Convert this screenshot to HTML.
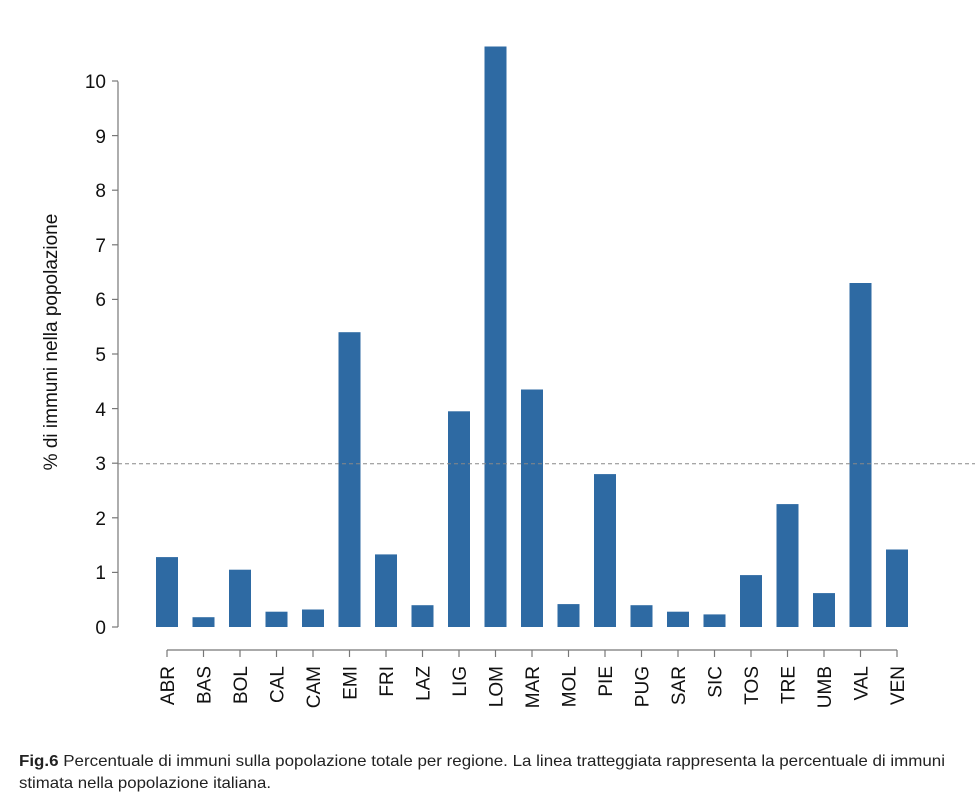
<!DOCTYPE html>
<html><head><meta charset="utf-8"><style>
html,body{margin:0;padding:0;background:#fff;}
svg{display:block;font-family:"Liberation Sans",Arial,sans-serif;}
</style></head><body>
<svg width="975" height="800" viewBox="0 0 975 800" xmlns="http://www.w3.org/2000/svg">
<g stroke="#777" stroke-width="1.2" fill="none">
<line x1="118" y1="81.5" x2="118" y2="627"/>
<line x1="112" y1="627" x2="118" y2="627"/>
<line x1="112" y1="572.4" x2="118" y2="572.4"/>
<line x1="112" y1="517.8" x2="118" y2="517.8"/>
<line x1="112" y1="463.2" x2="118" y2="463.2"/>
<line x1="112" y1="408.6" x2="118" y2="408.6"/>
<line x1="112" y1="354" x2="118" y2="354"/>
<line x1="112" y1="299.4" x2="118" y2="299.4"/>
<line x1="112" y1="244.8" x2="118" y2="244.8"/>
<line x1="112" y1="190.2" x2="118" y2="190.2"/>
<line x1="112" y1="135.6" x2="118" y2="135.6"/>
<line x1="112" y1="81" x2="118" y2="81"/>
<line x1="167" y1="650" x2="897" y2="650"/>
<line x1="167" y1="650" x2="167" y2="657"/><line x1="203.5" y1="650" x2="203.5" y2="657"/><line x1="240" y1="650" x2="240" y2="657"/><line x1="276.5" y1="650" x2="276.5" y2="657"/><line x1="313" y1="650" x2="313" y2="657"/><line x1="349.5" y1="650" x2="349.5" y2="657"/><line x1="386" y1="650" x2="386" y2="657"/><line x1="422.5" y1="650" x2="422.5" y2="657"/><line x1="459" y1="650" x2="459" y2="657"/><line x1="495.5" y1="650" x2="495.5" y2="657"/><line x1="532" y1="650" x2="532" y2="657"/><line x1="568.5" y1="650" x2="568.5" y2="657"/><line x1="605" y1="650" x2="605" y2="657"/><line x1="641.5" y1="650" x2="641.5" y2="657"/><line x1="678" y1="650" x2="678" y2="657"/><line x1="714.5" y1="650" x2="714.5" y2="657"/><line x1="751" y1="650" x2="751" y2="657"/><line x1="787.5" y1="650" x2="787.5" y2="657"/><line x1="824" y1="650" x2="824" y2="657"/><line x1="860.5" y1="650" x2="860.5" y2="657"/><line x1="897" y1="650" x2="897" y2="657"/>
</g>
<g fill="#111" font-size="19" text-anchor="end">
<text x="106" y="634">0</text><text x="106" y="579">1</text><text x="106" y="525">2</text>
<text x="106" y="470">3</text><text x="106" y="416">4</text><text x="106" y="361">5</text>
<text x="106" y="306">6</text><text x="106" y="252">7</text><text x="106" y="197">8</text>
<text x="106" y="143">9</text><text x="106" y="88">10</text>
</g>
<text transform="translate(57,342) rotate(-90)" text-anchor="middle" font-size="19" fill="#111">% di immuni nella popolazione</text>
<g fill="#2e6aa3">
<rect x="156" y="557.1" width="22" height="69.9"/>
<rect x="192.5" y="617.2" width="22" height="9.8"/>
<rect x="229" y="569.7" width="22" height="57.3"/>
<rect x="265.5" y="611.7" width="22" height="15.3"/>
<rect x="302" y="609.5" width="22" height="17.5"/>
<rect x="338.5" y="332.2" width="22" height="294.8"/>
<rect x="375" y="554.4" width="22" height="72.6"/>
<rect x="411.5" y="605.2" width="22" height="21.8"/>
<rect x="448" y="411.3" width="22" height="215.7"/>
<rect x="484.5" y="46.5" width="22" height="580.5"/>
<rect x="521" y="389.5" width="22" height="237.5"/>
<rect x="557.5" y="604.1" width="22" height="22.9"/>
<rect x="594" y="474.1" width="22" height="152.9"/>
<rect x="630.5" y="605.2" width="22" height="21.8"/>
<rect x="667" y="611.7" width="22" height="15.3"/>
<rect x="703.5" y="614.4" width="22" height="12.6"/>
<rect x="740" y="575.1" width="22" height="51.9"/>
<rect x="776.5" y="504.1" width="22" height="122.9"/>
<rect x="813" y="593.1" width="22" height="33.9"/>
<rect x="849.5" y="283" width="22" height="344"/>
<rect x="886" y="549.5" width="22" height="77.5"/>
</g>
<line x1="118" y1="463.8" x2="975" y2="463.8" stroke="#888" stroke-width="1" stroke-dasharray="4,3"/>
<g fill="#111" font-size="19" text-anchor="end">
<text transform="translate(174,666) rotate(-90)">ABR</text>
<text transform="translate(210.5,666) rotate(-90)">BAS</text>
<text transform="translate(247,666) rotate(-90)">BOL</text>
<text transform="translate(283.5,666) rotate(-90)">CAL</text>
<text transform="translate(320,666) rotate(-90)">CAM</text>
<text transform="translate(356.5,666) rotate(-90)">EMI</text>
<text transform="translate(393,666) rotate(-90)">FRI</text>
<text transform="translate(429.5,666) rotate(-90)">LAZ</text>
<text transform="translate(466,666) rotate(-90)">LIG</text>
<text transform="translate(502.5,666) rotate(-90)">LOM</text>
<text transform="translate(539,666) rotate(-90)">MAR</text>
<text transform="translate(575.5,666) rotate(-90)">MOL</text>
<text transform="translate(612,666) rotate(-90)">PIE</text>
<text transform="translate(648.5,666) rotate(-90)">PUG</text>
<text transform="translate(685,666) rotate(-90)">SAR</text>
<text transform="translate(721.5,666) rotate(-90)">SIC</text>
<text transform="translate(758,666) rotate(-90)">TOS</text>
<text transform="translate(794.5,666) rotate(-90)">TRE</text>
<text transform="translate(831,666) rotate(-90)">UMB</text>
<text transform="translate(867.5,666) rotate(-90)">VAL</text>
<text transform="translate(904,666) rotate(-90)">VEN</text>
</g>
<text x="19" y="766" font-size="16" fill="#222" textLength="926" lengthAdjust="spacingAndGlyphs"><tspan font-weight="bold">Fig.6</tspan> Percentuale di immuni sulla popolazione totale per regione. La linea tratteggiata rappresenta la percentuale di immuni</text>
<text x="19" y="788" font-size="16" fill="#222" textLength="252" lengthAdjust="spacingAndGlyphs">stimata nella popolazione italiana.</text>
</svg>
</body></html>
